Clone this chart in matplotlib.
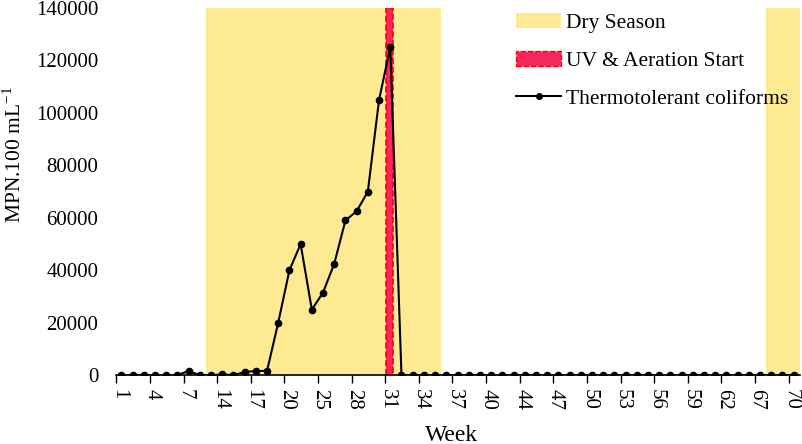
import matplotlib.pyplot as plt
import matplotlib.transforms as mtransforms
from matplotlib.patches import Patch
from matplotlib.lines import Line2D
from matplotlib.ticker import FixedLocator

plt.rcParams['font.family'] = ['Liberation Serif', 'DejaVu Serif']
plt.rcParams['mathtext.fontset'] = 'custom'
plt.rcParams['mathtext.rm'] = 'Liberation Serif'

# week labels (one per sample, evenly spaced on the axis)
weeks = [1, 2, 3, 4, 5, 6, 7, 10, 12, 14, 15, 16, 17, 18, 19, 20, 22, 24,
         25, 26, 27, 28, 29, 30, 31, 32, 33, 34, 35, 36, 37, 38, 39, 40,
         41, 43, 44, 45, 46, 47, 48, 49, 50, 51, 52, 53, 54, 55, 56, 57,
         58, 59, 60, 61, 62, 63, 65, 67, 68, 69, 70]
coliformes = [0, 0, 0, 0, 0, 0, 1600, 0, 0, 300, 0, 1200, 1600, 1600,
              20000, 40000, 50000, 25000, 31500, 42500, 59000, 62500, 70000,
              105000, 125000] + [0] * 36

# dry season spans and UV start (axis positions)
seco = [(7.6, 28.5), (57.5, 60.6)]
uv_inicio = (23.6, 24.2)

fig, ax = plt.subplots(figsize=(8.02, 4.44), dpi=100)
fig.subplots_adjust(left=0.145, right=0.998, top=0.982, bottom=0.155)

x = list(range(len(weeks)))
for a, b in seco:
    ax.axvspan(a, b, color='#FFEA94', lw=0, zorder=0)
ax.axvspan(uv_inicio[0], uv_inicio[1], facecolor='#F5275C', edgecolor='#FF0000',
           linestyle='--', lw=1.2, zorder=1)
ax.plot(x, coliformes, color='black', lw=1.5, marker='o', ms=4.5, zorder=3)

ax.set_xlim(-0.45, 60.6)
ax.set_ylim(0, 140000)
ax.set_yticks(range(0, 140001, 20000))

idx = x[::3]
ax.set_xticks(idx)
ax.set_xticklabels([str(weeks[i]) for i in idx], rotation=-90)
ax.xaxis.set_minor_locator(FixedLocator([i - 0.45 for i in idx]))
ax.tick_params(axis='x', which='major', length=0, pad=10, labelsize=15)
ax.tick_params(axis='x', which='minor', length=6, width=1, direction='out')
ax.tick_params(axis='y', length=0, pad=13, labelsize=15)

# nudge rotated labels so the digits sit centred on their points
desplaza = mtransforms.ScaledTranslation(-3 / 100, 0, fig.dpi_scale_trans)
for lab in ax.get_xticklabels():
    lab.set_transform(lab.get_transform() + desplaza)

for s in ['top', 'right', 'left']:
    ax.spines[s].set_visible(False)
ax.spines['bottom'].set_linewidth(1.2)

ax.set_xlabel('Week', fontsize=17)
ax.xaxis.set_label_coords(0.49, -0.135)
ax.xaxis.label.set_va('top')
ax.set_ylabel(r'MPN.100 mL$^{\mathregular{-1}}$', fontsize=15.5)
ax.yaxis.set_label_coords(-0.132, 0.6)

handles = [Patch(facecolor='#FFEA94', edgecolor='none', label='Dry Season'),
           Patch(facecolor='#F5275C', edgecolor='#FF0000', linestyle='--',
                 label='UV & Aeration Start'),
           Line2D([0], [0], color='black', lw=1.5, marker='o', ms=4,
                  label='Thermotolerant coliforms')]
ax.legend(handles=handles, loc='upper right', bbox_to_anchor=(1.01, 1.04),
          frameon=False, fontsize=15.5, handlelength=2.1, labelspacing=0.83,
          handletextpad=0.2)

plt.savefig('out.png', dpi=100)
